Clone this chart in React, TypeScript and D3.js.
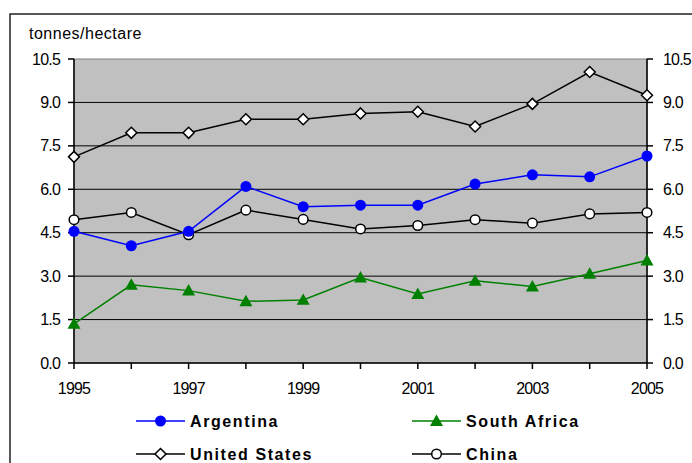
import React from "react";
import * as d3 from "d3";

// Yield in tonnes per hectare, 1995–2005
const years = [1995, 1996, 1997, 1998, 1999, 2000, 2001, 2002, 2003, 2004, 2005];
const argentina = [4.55, 4.05, 4.55, 6.1, 5.4, 5.45, 5.45, 6.18, 6.5, 6.43, 7.15];
const southAfrica = [1.35, 2.7, 2.5, 2.13, 2.18, 2.95, 2.38, 2.84, 2.64, 3.08, 3.54];
const unitedStates = [7.12, 7.95, 7.95, 8.42, 8.42, 8.62, 8.68, 8.17, 8.95, 10.05, 9.25];
const china = [4.95, 5.2, 4.43, 5.28, 4.96, 4.63, 4.75, 4.95, 4.83, 5.15, 5.2];
const yTicks = [0, 1.5, 3, 4.5, 6, 7.5, 9, 10.5];
const xLabelYears = [1995, 1997, 1999, 2001, 2003, 2005];

const W = 692;
const H = 463;
const plot = { left: 74, right: 647, top: 59, bottom: 363 };
const font = "'Liberation Sans', Arial, sans-serif";

type MarkerKind = "circle" | "triangle" | "diamond" | "ring";

function Marker({ kind, x, y, color }: { kind: MarkerKind; x: number; y: number; color: string }) {
  if (kind === "circle") return <circle cx={x} cy={y} r={5.5} fill={color} />;
  if (kind === "ring")
    return <circle cx={x} cy={y} r={4.8} fill="#fff" stroke="#000" strokeWidth={1.5} />;
  if (kind === "triangle") {
    const s = 6.5;
    return (
      <path
        d={`M${x},${y - s} L${x + s},${y + s * 0.75} L${x - s},${y + s * 0.75} Z`}
        fill={color}
      />
    );
  }
  const s = 5.5;
  return (
    <path
      d={`M${x},${y - s} L${x + s},${y} L${x},${y + s} L${x - s},${y} Z`}
      fill="#fff"
      stroke="#000"
      strokeWidth={1.5}
    />
  );
}

export default function App() {
  const x = d3.scaleLinear().domain([1995, 2005]).range([plot.left, plot.right]);
  const y = d3.scaleLinear().domain([0, 10.5]).range([plot.bottom, plot.top]);

  const line = d3
    .line<number>()
    .x((_, i) => x(years[i]))
    .y((d) => y(d));

  const series: { name: string; values: number[]; color: string; kind: MarkerKind }[] = [
    { name: "United States", values: unitedStates, color: "#000", kind: "diamond" },
    { name: "China", values: china, color: "#000", kind: "ring" },
    { name: "South Africa", values: southAfrica, color: "#008000", kind: "triangle" },
    { name: "Argentina", values: argentina, color: "#0000FF", kind: "circle" },
  ];

  const legend: { name: string; color: string; kind: MarkerKind; lx: number; ly: number }[] = [
    { name: "Argentina", color: "#0000FF", kind: "circle", lx: 136, ly: 421 },
    { name: "South Africa", color: "#008000", kind: "triangle", lx: 412, ly: 421 },
    { name: "United States", color: "#000", kind: "diamond", lx: 136, ly: 454 },
    { name: "China", color: "#000", kind: "ring", lx: 412, ly: 454 },
  ];

  return (
    <svg
      width={W}
      height={H}
      style={{ position: "absolute", left: 0, top: 0 }}
      fontFamily={font}
    >
      <rect x={0} y={0} width={W} height={H} fill="#fff" />
      {/* outer chart frame */}
      <rect x={10} y={14} width={W} height={H} fill="#fff" stroke="#222" strokeWidth={1.5} />

      <text x={29} y={39} fontSize={16} letterSpacing={0.5} fill="#000">
        tonnes/hectare
      </text>

      {/* plot area */}
      <rect
        x={plot.left}
        y={plot.top}
        width={plot.right - plot.left}
        height={plot.bottom - plot.top}
        fill="#C0C0C0"
        stroke="#808080"
        strokeWidth={1}
      />
      {yTicks
        .filter((t) => t > 0 && t < 10.5)
        .map((t) => (
          <line key={t} x1={plot.left} x2={plot.right} y1={y(t)} y2={y(t)} stroke="#000" strokeWidth={1} />
        ))}

      {/* axes */}
      <line x1={plot.left} x2={plot.left} y1={plot.top} y2={plot.bottom} stroke="#000" strokeWidth={1.5} />
      <line x1={plot.right} x2={plot.right} y1={plot.top} y2={plot.bottom} stroke="#000" strokeWidth={1.5} />
      <line x1={plot.left} x2={plot.right} y1={plot.bottom} y2={plot.bottom} stroke="#000" strokeWidth={1.5} />

      {yTicks.map((t) => (
        <g key={t}>
          <line x1={plot.left - 6} x2={plot.left} y1={y(t)} y2={y(t)} stroke="#000" strokeWidth={1.5} />
          <line x1={plot.right} x2={plot.right + 6} y1={y(t)} y2={y(t)} stroke="#000" strokeWidth={1.5} />
          <text
            x={plot.left - 14}
            y={y(t)}
            dy="0.35em"
            textAnchor="end"
            fontSize={16}
            letterSpacing={-0.8}
            fill="#000"
          >
            {t.toFixed(1)}
          </text>
          <text x={plot.right + 16} y={y(t)} dy="0.35em" fontSize={16} letterSpacing={-0.8} fill="#000">
            {t.toFixed(1)}
          </text>
        </g>
      ))}

      {years.map((yr) => (
        <line key={yr} x1={x(yr)} x2={x(yr)} y1={plot.bottom} y2={plot.bottom + 6} stroke="#000" strokeWidth={1.5} />
      ))}
      {xLabelYears.map((yr) => (
        <text
          key={yr}
          x={x(yr)}
          y={plot.bottom + 25}
          dy="0.35em"
          textAnchor="middle"
          fontSize={16}
          letterSpacing={-0.8}
          fill="#000"
        >
          {yr}
        </text>
      ))}

      {/* series */}
      {series.map((s) => (
        <g key={s.name}>
          <path d={line(s.values) ?? ""} fill="none" stroke={s.color} strokeWidth={1.5} />
          {s.values.map((v, i) => (
            <Marker key={i} kind={s.kind} x={x(years[i])} y={y(v)} color={s.color} />
          ))}
        </g>
      ))}

      {/* legend */}
      {legend.map((l) => (
        <g key={l.name}>
          <line x1={l.lx} x2={l.lx + 49} y1={l.ly} y2={l.ly} stroke={l.color} strokeWidth={1.5} />
          <Marker kind={l.kind} x={l.lx + 24.5} y={l.ly} color={l.color} />
          <text
            x={l.lx + 54}
            y={l.ly}
            dy="0.36em"
            fontSize={16}
            fontWeight="bold"
            letterSpacing={1.6}
            fill="#000"
          >
            {l.name}
          </text>
        </g>
      ))}
    </svg>
  );
}
